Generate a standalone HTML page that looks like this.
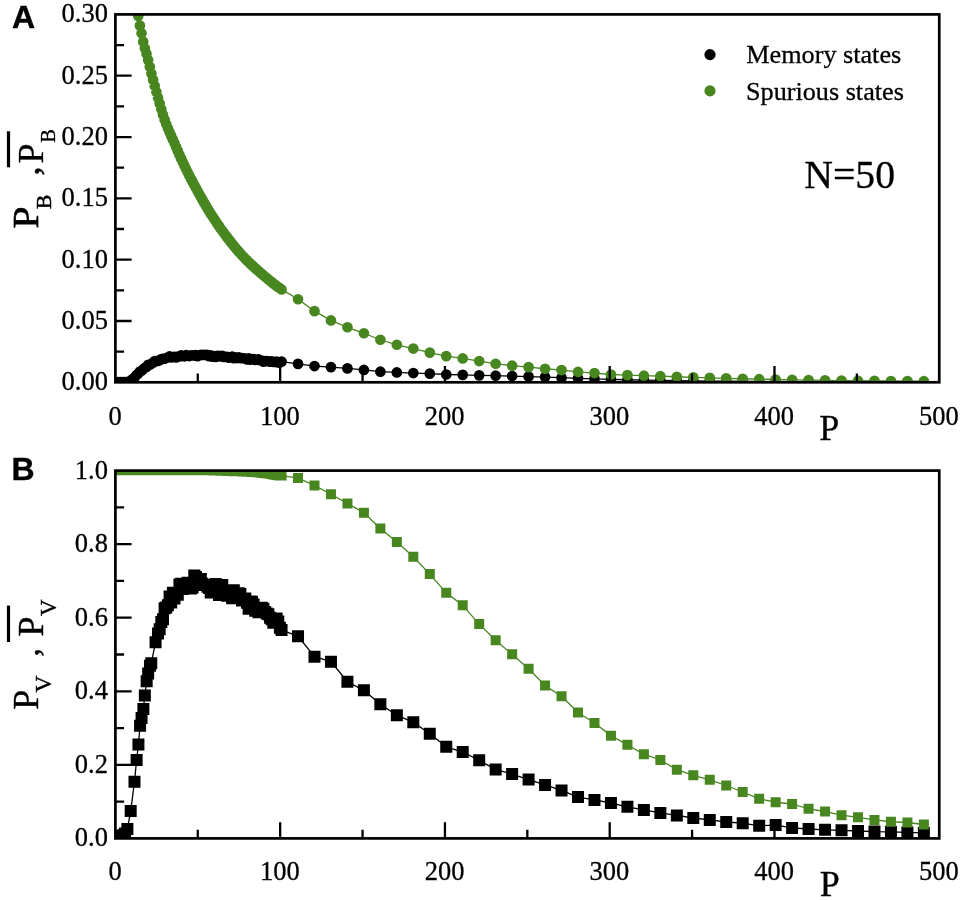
<!DOCTYPE html>
<html lang="en"><head><meta charset="utf-8"><title>Memory and spurious states, N=50</title>
<style>html,body{margin:0;padding:0;background:#fff}svg{display:block}text{font-family:"Liberation Serif","Times New Roman",serif;fill:#000}.pl{font-family:"Liberation Sans",Arial,sans-serif;font-weight:bold;font-size:32px;stroke:#000;stroke-width:0.4px}.tk{font-size:26.5px;stroke:#000;stroke-width:0.3px}.lg{font-size:26.2px;stroke:#000;stroke-width:0.3px}</style></head><body>
<svg width="961" height="900" viewBox="0 0 961 900">
<rect width="961" height="900" fill="#fff"/>
<defs>
<clipPath id="ca"><rect x="115.4" y="14.4" width="823.85" height="367.9"/></clipPath>
<clipPath id="cb"><rect x="115.4" y="470.6" width="823.85" height="367.8"/></clipPath>
</defs>
<g clip-path="url(#ca)">
<polyline points="118.5,382.2 120.15,382.2 121.79,382.2 123.44,382.2 125.09,382.17 126.73,382.02 128.38,381.77 130.03,381.13 131.68,379.89 133.32,378.57 134.97,377.04 136.62,375.04 138.26,373.48 139.91,371.55 141.56,370.64 143.2,369.24 144.85,367.8 146.5,366.91 148.15,364.73 149.79,364.66 151.44,363.82 153.09,362.6 154.73,361.15 156.38,361.01 158.03,360.91 159.67,360.18 161.32,359.04 162.97,358.86 164.62,358.66 166.26,358.04 167.91,357.27 169.56,356.42 171.2,357.5 172.85,356.98 174.5,356.84 176.14,357.36 177.79,356.56 179.44,356.44 181.09,355.37 182.73,355.77 184.38,356.28 186.03,355.19 187.67,355.52 189.32,356.03 190.97,355.47 192.61,355.43 194.26,355.54 195.91,355.16 197.56,356.16 199.2,355.36 200.85,354.86 202.5,355 204.14,354.96 205.79,355.04 207.44,354.97 209.08,356.17 210.73,355.42 212.38,356.67 214.03,356.22 215.67,356.88 217.32,355.73 218.97,355.73 220.61,356.51 222.26,355.81 223.91,357 225.55,356.8 227.2,356.95 228.85,357.63 230.5,357.15 232.14,356.67 233.79,358.1 235.44,357.44 237.08,358.05 238.73,357.38 240.38,358.08 242.02,358.14 243.67,358.3 245.32,358.62 246.97,359.47 248.61,358.42 250.26,359.75 251.91,359.21 253.55,359.19 255.2,359.97 256.85,359.7 258.49,359.43 260.14,360.1 261.79,360.65 263.44,361.7 265.08,361.05 266.73,361.09 268.38,361.25 270.02,361.64 271.67,361.27 273.32,361.87 274.96,361.87 276.61,361.72 278.26,362.56 279.91,362.49 281.55,361.6 298.02,363.85 314.49,366.05 330.96,367.15 347.43,368.38 363.9,369.97 380.37,371.68 396.84,372.41 413.31,373.03 429.78,373.64 446.25,374.49 462.72,374.86 479.19,375.35 495.66,375.72 512.13,376.08 528.6,376.57 545.07,377.06 561.54,377.67 578.01,378.29 594.48,378.9 610.95,379.39 627.42,379.76 643.89,380.09 660.36,380.38 676.83,380.64 693.3,380.85 709.77,381.04 726.24,381.21 742.71,381.35 759.18,381.48 775.65,381.59 792.12,381.68 808.59,381.76 825.06,381.83 841.53,381.89 858,381.96 874.47,382.01 890.94,382.07 907.41,382.12 923.88,382.16" fill="none" stroke="#000000" stroke-width="1.3" stroke-linejoin="round"/>
<path d="M113.15,382.2a5.35,5.35 0 1,0 10.7,0a5.35,5.35 0 1,0 -10.7,0zM114.8,382.2a5.35,5.35 0 1,0 10.7,0a5.35,5.35 0 1,0 -10.7,0zM116.44,382.2a5.35,5.35 0 1,0 10.7,0a5.35,5.35 0 1,0 -10.7,0zM118.09,382.2a5.35,5.35 0 1,0 10.7,0a5.35,5.35 0 1,0 -10.7,0zM119.74,382.17a5.35,5.35 0 1,0 10.7,0a5.35,5.35 0 1,0 -10.7,0zM121.38,382.02a5.35,5.35 0 1,0 10.7,0a5.35,5.35 0 1,0 -10.7,0zM123.03,381.77a5.35,5.35 0 1,0 10.7,0a5.35,5.35 0 1,0 -10.7,0zM124.68,381.13a5.35,5.35 0 1,0 10.7,0a5.35,5.35 0 1,0 -10.7,0zM126.33,379.89a5.35,5.35 0 1,0 10.7,0a5.35,5.35 0 1,0 -10.7,0zM127.97,378.57a5.35,5.35 0 1,0 10.7,0a5.35,5.35 0 1,0 -10.7,0zM129.62,377.04a5.35,5.35 0 1,0 10.7,0a5.35,5.35 0 1,0 -10.7,0zM131.27,375.04a5.35,5.35 0 1,0 10.7,0a5.35,5.35 0 1,0 -10.7,0zM132.91,373.48a5.35,5.35 0 1,0 10.7,0a5.35,5.35 0 1,0 -10.7,0zM134.56,371.55a5.35,5.35 0 1,0 10.7,0a5.35,5.35 0 1,0 -10.7,0zM136.21,370.64a5.35,5.35 0 1,0 10.7,0a5.35,5.35 0 1,0 -10.7,0zM137.85,369.24a5.35,5.35 0 1,0 10.7,0a5.35,5.35 0 1,0 -10.7,0zM139.5,367.8a5.35,5.35 0 1,0 10.7,0a5.35,5.35 0 1,0 -10.7,0zM141.15,366.91a5.35,5.35 0 1,0 10.7,0a5.35,5.35 0 1,0 -10.7,0zM142.8,364.73a5.35,5.35 0 1,0 10.7,0a5.35,5.35 0 1,0 -10.7,0zM144.44,364.66a5.35,5.35 0 1,0 10.7,0a5.35,5.35 0 1,0 -10.7,0zM146.09,363.82a5.35,5.35 0 1,0 10.7,0a5.35,5.35 0 1,0 -10.7,0zM147.74,362.6a5.35,5.35 0 1,0 10.7,0a5.35,5.35 0 1,0 -10.7,0zM149.38,361.15a5.35,5.35 0 1,0 10.7,0a5.35,5.35 0 1,0 -10.7,0zM151.03,361.01a5.35,5.35 0 1,0 10.7,0a5.35,5.35 0 1,0 -10.7,0zM152.68,360.91a5.35,5.35 0 1,0 10.7,0a5.35,5.35 0 1,0 -10.7,0zM154.32,360.18a5.35,5.35 0 1,0 10.7,0a5.35,5.35 0 1,0 -10.7,0zM155.97,359.04a5.35,5.35 0 1,0 10.7,0a5.35,5.35 0 1,0 -10.7,0zM157.62,358.86a5.35,5.35 0 1,0 10.7,0a5.35,5.35 0 1,0 -10.7,0zM159.27,358.66a5.35,5.35 0 1,0 10.7,0a5.35,5.35 0 1,0 -10.7,0zM160.91,358.04a5.35,5.35 0 1,0 10.7,0a5.35,5.35 0 1,0 -10.7,0zM162.56,357.27a5.35,5.35 0 1,0 10.7,0a5.35,5.35 0 1,0 -10.7,0zM164.21,356.42a5.35,5.35 0 1,0 10.7,0a5.35,5.35 0 1,0 -10.7,0zM165.85,357.5a5.35,5.35 0 1,0 10.7,0a5.35,5.35 0 1,0 -10.7,0zM167.5,356.98a5.35,5.35 0 1,0 10.7,0a5.35,5.35 0 1,0 -10.7,0zM169.15,356.84a5.35,5.35 0 1,0 10.7,0a5.35,5.35 0 1,0 -10.7,0zM170.79,357.36a5.35,5.35 0 1,0 10.7,0a5.35,5.35 0 1,0 -10.7,0zM172.44,356.56a5.35,5.35 0 1,0 10.7,0a5.35,5.35 0 1,0 -10.7,0zM174.09,356.44a5.35,5.35 0 1,0 10.7,0a5.35,5.35 0 1,0 -10.7,0zM175.74,355.37a5.35,5.35 0 1,0 10.7,0a5.35,5.35 0 1,0 -10.7,0zM177.38,355.77a5.35,5.35 0 1,0 10.7,0a5.35,5.35 0 1,0 -10.7,0zM179.03,356.28a5.35,5.35 0 1,0 10.7,0a5.35,5.35 0 1,0 -10.7,0zM180.68,355.19a5.35,5.35 0 1,0 10.7,0a5.35,5.35 0 1,0 -10.7,0zM182.32,355.52a5.35,5.35 0 1,0 10.7,0a5.35,5.35 0 1,0 -10.7,0zM183.97,356.03a5.35,5.35 0 1,0 10.7,0a5.35,5.35 0 1,0 -10.7,0zM185.62,355.47a5.35,5.35 0 1,0 10.7,0a5.35,5.35 0 1,0 -10.7,0zM187.26,355.43a5.35,5.35 0 1,0 10.7,0a5.35,5.35 0 1,0 -10.7,0zM188.91,355.54a5.35,5.35 0 1,0 10.7,0a5.35,5.35 0 1,0 -10.7,0zM190.56,355.16a5.35,5.35 0 1,0 10.7,0a5.35,5.35 0 1,0 -10.7,0zM192.21,356.16a5.35,5.35 0 1,0 10.7,0a5.35,5.35 0 1,0 -10.7,0zM193.85,355.36a5.35,5.35 0 1,0 10.7,0a5.35,5.35 0 1,0 -10.7,0zM195.5,354.86a5.35,5.35 0 1,0 10.7,0a5.35,5.35 0 1,0 -10.7,0zM197.15,355a5.35,5.35 0 1,0 10.7,0a5.35,5.35 0 1,0 -10.7,0zM198.79,354.96a5.35,5.35 0 1,0 10.7,0a5.35,5.35 0 1,0 -10.7,0zM200.44,355.04a5.35,5.35 0 1,0 10.7,0a5.35,5.35 0 1,0 -10.7,0zM202.09,354.97a5.35,5.35 0 1,0 10.7,0a5.35,5.35 0 1,0 -10.7,0zM203.73,356.17a5.35,5.35 0 1,0 10.7,0a5.35,5.35 0 1,0 -10.7,0zM205.38,355.42a5.35,5.35 0 1,0 10.7,0a5.35,5.35 0 1,0 -10.7,0zM207.03,356.67a5.35,5.35 0 1,0 10.7,0a5.35,5.35 0 1,0 -10.7,0zM208.68,356.22a5.35,5.35 0 1,0 10.7,0a5.35,5.35 0 1,0 -10.7,0zM210.32,356.88a5.35,5.35 0 1,0 10.7,0a5.35,5.35 0 1,0 -10.7,0zM211.97,355.73a5.35,5.35 0 1,0 10.7,0a5.35,5.35 0 1,0 -10.7,0zM213.62,355.73a5.35,5.35 0 1,0 10.7,0a5.35,5.35 0 1,0 -10.7,0zM215.26,356.51a5.35,5.35 0 1,0 10.7,0a5.35,5.35 0 1,0 -10.7,0zM216.91,355.81a5.35,5.35 0 1,0 10.7,0a5.35,5.35 0 1,0 -10.7,0zM218.56,357a5.35,5.35 0 1,0 10.7,0a5.35,5.35 0 1,0 -10.7,0zM220.2,356.8a5.35,5.35 0 1,0 10.7,0a5.35,5.35 0 1,0 -10.7,0zM221.85,356.95a5.35,5.35 0 1,0 10.7,0a5.35,5.35 0 1,0 -10.7,0zM223.5,357.63a5.35,5.35 0 1,0 10.7,0a5.35,5.35 0 1,0 -10.7,0zM225.15,357.15a5.35,5.35 0 1,0 10.7,0a5.35,5.35 0 1,0 -10.7,0zM226.79,356.67a5.35,5.35 0 1,0 10.7,0a5.35,5.35 0 1,0 -10.7,0zM228.44,358.1a5.35,5.35 0 1,0 10.7,0a5.35,5.35 0 1,0 -10.7,0zM230.09,357.44a5.35,5.35 0 1,0 10.7,0a5.35,5.35 0 1,0 -10.7,0zM231.73,358.05a5.35,5.35 0 1,0 10.7,0a5.35,5.35 0 1,0 -10.7,0zM233.38,357.38a5.35,5.35 0 1,0 10.7,0a5.35,5.35 0 1,0 -10.7,0zM235.03,358.08a5.35,5.35 0 1,0 10.7,0a5.35,5.35 0 1,0 -10.7,0zM236.67,358.14a5.35,5.35 0 1,0 10.7,0a5.35,5.35 0 1,0 -10.7,0zM238.32,358.3a5.35,5.35 0 1,0 10.7,0a5.35,5.35 0 1,0 -10.7,0zM239.97,358.62a5.35,5.35 0 1,0 10.7,0a5.35,5.35 0 1,0 -10.7,0zM241.62,359.47a5.35,5.35 0 1,0 10.7,0a5.35,5.35 0 1,0 -10.7,0zM243.26,358.42a5.35,5.35 0 1,0 10.7,0a5.35,5.35 0 1,0 -10.7,0zM244.91,359.75a5.35,5.35 0 1,0 10.7,0a5.35,5.35 0 1,0 -10.7,0zM246.56,359.21a5.35,5.35 0 1,0 10.7,0a5.35,5.35 0 1,0 -10.7,0zM248.2,359.19a5.35,5.35 0 1,0 10.7,0a5.35,5.35 0 1,0 -10.7,0zM249.85,359.97a5.35,5.35 0 1,0 10.7,0a5.35,5.35 0 1,0 -10.7,0zM251.5,359.7a5.35,5.35 0 1,0 10.7,0a5.35,5.35 0 1,0 -10.7,0zM253.14,359.43a5.35,5.35 0 1,0 10.7,0a5.35,5.35 0 1,0 -10.7,0zM254.79,360.1a5.35,5.35 0 1,0 10.7,0a5.35,5.35 0 1,0 -10.7,0zM256.44,360.65a5.35,5.35 0 1,0 10.7,0a5.35,5.35 0 1,0 -10.7,0zM258.09,361.7a5.35,5.35 0 1,0 10.7,0a5.35,5.35 0 1,0 -10.7,0zM259.73,361.05a5.35,5.35 0 1,0 10.7,0a5.35,5.35 0 1,0 -10.7,0zM261.38,361.09a5.35,5.35 0 1,0 10.7,0a5.35,5.35 0 1,0 -10.7,0zM263.03,361.25a5.35,5.35 0 1,0 10.7,0a5.35,5.35 0 1,0 -10.7,0zM264.67,361.64a5.35,5.35 0 1,0 10.7,0a5.35,5.35 0 1,0 -10.7,0zM266.32,361.27a5.35,5.35 0 1,0 10.7,0a5.35,5.35 0 1,0 -10.7,0zM267.97,361.87a5.35,5.35 0 1,0 10.7,0a5.35,5.35 0 1,0 -10.7,0zM269.61,361.87a5.35,5.35 0 1,0 10.7,0a5.35,5.35 0 1,0 -10.7,0zM271.26,361.72a5.35,5.35 0 1,0 10.7,0a5.35,5.35 0 1,0 -10.7,0zM272.91,362.56a5.35,5.35 0 1,0 10.7,0a5.35,5.35 0 1,0 -10.7,0zM274.56,362.49a5.35,5.35 0 1,0 10.7,0a5.35,5.35 0 1,0 -10.7,0zM276.2,361.6a5.35,5.35 0 1,0 10.7,0a5.35,5.35 0 1,0 -10.7,0zM292.67,363.85a5.35,5.35 0 1,0 10.7,0a5.35,5.35 0 1,0 -10.7,0zM309.14,366.05a5.35,5.35 0 1,0 10.7,0a5.35,5.35 0 1,0 -10.7,0zM325.61,367.15a5.35,5.35 0 1,0 10.7,0a5.35,5.35 0 1,0 -10.7,0zM342.08,368.38a5.35,5.35 0 1,0 10.7,0a5.35,5.35 0 1,0 -10.7,0zM358.55,369.97a5.35,5.35 0 1,0 10.7,0a5.35,5.35 0 1,0 -10.7,0zM375.02,371.68a5.35,5.35 0 1,0 10.7,0a5.35,5.35 0 1,0 -10.7,0zM391.49,372.41a5.35,5.35 0 1,0 10.7,0a5.35,5.35 0 1,0 -10.7,0zM407.96,373.03a5.35,5.35 0 1,0 10.7,0a5.35,5.35 0 1,0 -10.7,0zM424.43,373.64a5.35,5.35 0 1,0 10.7,0a5.35,5.35 0 1,0 -10.7,0zM440.9,374.49a5.35,5.35 0 1,0 10.7,0a5.35,5.35 0 1,0 -10.7,0zM457.37,374.86a5.35,5.35 0 1,0 10.7,0a5.35,5.35 0 1,0 -10.7,0zM473.84,375.35a5.35,5.35 0 1,0 10.7,0a5.35,5.35 0 1,0 -10.7,0zM490.31,375.72a5.35,5.35 0 1,0 10.7,0a5.35,5.35 0 1,0 -10.7,0zM506.78,376.08a5.35,5.35 0 1,0 10.7,0a5.35,5.35 0 1,0 -10.7,0zM523.25,376.57a5.35,5.35 0 1,0 10.7,0a5.35,5.35 0 1,0 -10.7,0zM539.72,377.06a5.35,5.35 0 1,0 10.7,0a5.35,5.35 0 1,0 -10.7,0zM556.19,377.67a5.35,5.35 0 1,0 10.7,0a5.35,5.35 0 1,0 -10.7,0zM572.66,378.29a5.35,5.35 0 1,0 10.7,0a5.35,5.35 0 1,0 -10.7,0zM589.13,378.9a5.35,5.35 0 1,0 10.7,0a5.35,5.35 0 1,0 -10.7,0zM605.6,379.39a5.35,5.35 0 1,0 10.7,0a5.35,5.35 0 1,0 -10.7,0zM622.07,379.76a5.35,5.35 0 1,0 10.7,0a5.35,5.35 0 1,0 -10.7,0zM638.54,380.09a5.35,5.35 0 1,0 10.7,0a5.35,5.35 0 1,0 -10.7,0zM655.01,380.38a5.35,5.35 0 1,0 10.7,0a5.35,5.35 0 1,0 -10.7,0zM671.48,380.64a5.35,5.35 0 1,0 10.7,0a5.35,5.35 0 1,0 -10.7,0zM687.95,380.85a5.35,5.35 0 1,0 10.7,0a5.35,5.35 0 1,0 -10.7,0zM704.42,381.04a5.35,5.35 0 1,0 10.7,0a5.35,5.35 0 1,0 -10.7,0zM720.89,381.21a5.35,5.35 0 1,0 10.7,0a5.35,5.35 0 1,0 -10.7,0zM737.36,381.35a5.35,5.35 0 1,0 10.7,0a5.35,5.35 0 1,0 -10.7,0zM753.83,381.48a5.35,5.35 0 1,0 10.7,0a5.35,5.35 0 1,0 -10.7,0zM770.3,381.59a5.35,5.35 0 1,0 10.7,0a5.35,5.35 0 1,0 -10.7,0zM786.77,381.68a5.35,5.35 0 1,0 10.7,0a5.35,5.35 0 1,0 -10.7,0zM803.24,381.76a5.35,5.35 0 1,0 10.7,0a5.35,5.35 0 1,0 -10.7,0zM819.71,381.83a5.35,5.35 0 1,0 10.7,0a5.35,5.35 0 1,0 -10.7,0zM836.18,381.89a5.35,5.35 0 1,0 10.7,0a5.35,5.35 0 1,0 -10.7,0zM852.65,381.96a5.35,5.35 0 1,0 10.7,0a5.35,5.35 0 1,0 -10.7,0zM869.12,382.01a5.35,5.35 0 1,0 10.7,0a5.35,5.35 0 1,0 -10.7,0zM885.59,382.07a5.35,5.35 0 1,0 10.7,0a5.35,5.35 0 1,0 -10.7,0zM902.06,382.12a5.35,5.35 0 1,0 10.7,0a5.35,5.35 0 1,0 -10.7,0zM918.53,382.16a5.35,5.35 0 1,0 10.7,0a5.35,5.35 0 1,0 -10.7,0z" fill="#000000"/>
<polyline points="118.5,-100.38 120.15,-90.76 121.79,-81.14 123.44,-71.52 125.09,-61.92 126.73,-52.32 128.38,-42.72 130.03,-33.15 131.68,-23.63 133.32,-14.01 134.97,-4.17 136.62,5.86 138.26,15.87 139.91,25.61 141.56,33.26 143.2,41.7 144.85,48.23 146.5,53.75 148.15,60.11 149.79,66.84 151.44,73.53 153.09,79.86 154.73,85.98 156.38,91.94 158.03,97.74 159.67,103.47 161.32,109.19 162.97,114.69 164.62,119.75 166.26,124.24 167.91,128.36 169.56,132.21 171.2,135.91 172.85,139.56 174.5,143.29 176.14,147.1 177.79,150.9 179.44,154.68 181.09,158.4 182.73,162.03 184.38,165.55 186.03,168.96 187.67,172.29 189.32,175.55 190.97,178.74 192.61,181.89 194.26,184.99 195.91,188.06 197.56,191.09 199.2,194.08 200.85,197.01 202.5,199.9 204.14,202.75 205.79,205.57 207.44,208.35 209.08,211.08 210.73,213.75 212.38,216.33 214.03,218.84 215.67,221.31 217.32,223.74 218.97,226.13 220.61,228.47 222.26,230.77 223.91,233.03 225.55,235.23 227.2,237.39 228.85,239.52 230.5,241.63 232.14,243.7 233.79,245.74 235.44,247.74 237.08,249.7 238.73,251.61 240.38,253.48 242.02,255.28 243.67,257.04 245.32,258.74 246.97,260.39 248.61,262.01 250.26,263.59 251.91,265.13 253.55,266.65 255.2,268.14 256.85,269.6 258.49,271.05 260.14,272.48 261.79,273.89 263.44,275.3 265.08,276.7 266.73,278.08 268.38,279.45 270.02,280.8 271.67,282.12 273.32,283.42 274.96,284.69 276.61,285.93 278.26,287.13 279.91,288.3 281.55,289.42 298.02,299.26 314.49,311.13 330.96,320.42 347.43,327.27 363.9,333.27 380.37,339.75 396.84,344.77 413.31,348.56 429.78,352.6 446.25,356.14 462.72,358.47 479.19,361.04 495.66,363.73 512.13,365.69 528.6,367.15 545.07,368.74 561.54,370.09 578.01,371.92 594.48,373.03 610.95,374.49 627.42,375.1 643.89,375.72 660.36,376.21 676.83,376.76 693.3,377.31 709.77,377.8 726.24,378.29 742.71,378.75 759.18,379.16 775.65,379.51 792.12,379.81 808.59,380.09 825.06,380.34 841.53,380.55 858,380.73 874.47,380.88 890.94,380.99 907.41,381.1 923.88,381.22" fill="none" stroke="#488620" stroke-width="1.3" stroke-linejoin="round"/>
<path d="M113.15,-100.38a5.35,5.35 0 1,0 10.7,0a5.35,5.35 0 1,0 -10.7,0zM114.8,-90.76a5.35,5.35 0 1,0 10.7,0a5.35,5.35 0 1,0 -10.7,0zM116.44,-81.14a5.35,5.35 0 1,0 10.7,0a5.35,5.35 0 1,0 -10.7,0zM118.09,-71.52a5.35,5.35 0 1,0 10.7,0a5.35,5.35 0 1,0 -10.7,0zM119.74,-61.92a5.35,5.35 0 1,0 10.7,0a5.35,5.35 0 1,0 -10.7,0zM121.38,-52.32a5.35,5.35 0 1,0 10.7,0a5.35,5.35 0 1,0 -10.7,0zM123.03,-42.72a5.35,5.35 0 1,0 10.7,0a5.35,5.35 0 1,0 -10.7,0zM124.68,-33.15a5.35,5.35 0 1,0 10.7,0a5.35,5.35 0 1,0 -10.7,0zM126.33,-23.63a5.35,5.35 0 1,0 10.7,0a5.35,5.35 0 1,0 -10.7,0zM127.97,-14.01a5.35,5.35 0 1,0 10.7,0a5.35,5.35 0 1,0 -10.7,0zM129.62,-4.17a5.35,5.35 0 1,0 10.7,0a5.35,5.35 0 1,0 -10.7,0zM131.27,5.86a5.35,5.35 0 1,0 10.7,0a5.35,5.35 0 1,0 -10.7,0zM132.91,15.87a5.35,5.35 0 1,0 10.7,0a5.35,5.35 0 1,0 -10.7,0zM134.56,25.61a5.35,5.35 0 1,0 10.7,0a5.35,5.35 0 1,0 -10.7,0zM136.21,33.26a5.35,5.35 0 1,0 10.7,0a5.35,5.35 0 1,0 -10.7,0zM137.85,41.7a5.35,5.35 0 1,0 10.7,0a5.35,5.35 0 1,0 -10.7,0zM139.5,48.23a5.35,5.35 0 1,0 10.7,0a5.35,5.35 0 1,0 -10.7,0zM141.15,53.75a5.35,5.35 0 1,0 10.7,0a5.35,5.35 0 1,0 -10.7,0zM142.8,60.11a5.35,5.35 0 1,0 10.7,0a5.35,5.35 0 1,0 -10.7,0zM144.44,66.84a5.35,5.35 0 1,0 10.7,0a5.35,5.35 0 1,0 -10.7,0zM146.09,73.53a5.35,5.35 0 1,0 10.7,0a5.35,5.35 0 1,0 -10.7,0zM147.74,79.86a5.35,5.35 0 1,0 10.7,0a5.35,5.35 0 1,0 -10.7,0zM149.38,85.98a5.35,5.35 0 1,0 10.7,0a5.35,5.35 0 1,0 -10.7,0zM151.03,91.94a5.35,5.35 0 1,0 10.7,0a5.35,5.35 0 1,0 -10.7,0zM152.68,97.74a5.35,5.35 0 1,0 10.7,0a5.35,5.35 0 1,0 -10.7,0zM154.32,103.47a5.35,5.35 0 1,0 10.7,0a5.35,5.35 0 1,0 -10.7,0zM155.97,109.19a5.35,5.35 0 1,0 10.7,0a5.35,5.35 0 1,0 -10.7,0zM157.62,114.69a5.35,5.35 0 1,0 10.7,0a5.35,5.35 0 1,0 -10.7,0zM159.27,119.75a5.35,5.35 0 1,0 10.7,0a5.35,5.35 0 1,0 -10.7,0zM160.91,124.24a5.35,5.35 0 1,0 10.7,0a5.35,5.35 0 1,0 -10.7,0zM162.56,128.36a5.35,5.35 0 1,0 10.7,0a5.35,5.35 0 1,0 -10.7,0zM164.21,132.21a5.35,5.35 0 1,0 10.7,0a5.35,5.35 0 1,0 -10.7,0zM165.85,135.91a5.35,5.35 0 1,0 10.7,0a5.35,5.35 0 1,0 -10.7,0zM167.5,139.56a5.35,5.35 0 1,0 10.7,0a5.35,5.35 0 1,0 -10.7,0zM169.15,143.29a5.35,5.35 0 1,0 10.7,0a5.35,5.35 0 1,0 -10.7,0zM170.79,147.1a5.35,5.35 0 1,0 10.7,0a5.35,5.35 0 1,0 -10.7,0zM172.44,150.9a5.35,5.35 0 1,0 10.7,0a5.35,5.35 0 1,0 -10.7,0zM174.09,154.68a5.35,5.35 0 1,0 10.7,0a5.35,5.35 0 1,0 -10.7,0zM175.74,158.4a5.35,5.35 0 1,0 10.7,0a5.35,5.35 0 1,0 -10.7,0zM177.38,162.03a5.35,5.35 0 1,0 10.7,0a5.35,5.35 0 1,0 -10.7,0zM179.03,165.55a5.35,5.35 0 1,0 10.7,0a5.35,5.35 0 1,0 -10.7,0zM180.68,168.96a5.35,5.35 0 1,0 10.7,0a5.35,5.35 0 1,0 -10.7,0zM182.32,172.29a5.35,5.35 0 1,0 10.7,0a5.35,5.35 0 1,0 -10.7,0zM183.97,175.55a5.35,5.35 0 1,0 10.7,0a5.35,5.35 0 1,0 -10.7,0zM185.62,178.74a5.35,5.35 0 1,0 10.7,0a5.35,5.35 0 1,0 -10.7,0zM187.26,181.89a5.35,5.35 0 1,0 10.7,0a5.35,5.35 0 1,0 -10.7,0zM188.91,184.99a5.35,5.35 0 1,0 10.7,0a5.35,5.35 0 1,0 -10.7,0zM190.56,188.06a5.35,5.35 0 1,0 10.7,0a5.35,5.35 0 1,0 -10.7,0zM192.21,191.09a5.35,5.35 0 1,0 10.7,0a5.35,5.35 0 1,0 -10.7,0zM193.85,194.08a5.35,5.35 0 1,0 10.7,0a5.35,5.35 0 1,0 -10.7,0zM195.5,197.01a5.35,5.35 0 1,0 10.7,0a5.35,5.35 0 1,0 -10.7,0zM197.15,199.9a5.35,5.35 0 1,0 10.7,0a5.35,5.35 0 1,0 -10.7,0zM198.79,202.75a5.35,5.35 0 1,0 10.7,0a5.35,5.35 0 1,0 -10.7,0zM200.44,205.57a5.35,5.35 0 1,0 10.7,0a5.35,5.35 0 1,0 -10.7,0zM202.09,208.35a5.35,5.35 0 1,0 10.7,0a5.35,5.35 0 1,0 -10.7,0zM203.73,211.08a5.35,5.35 0 1,0 10.7,0a5.35,5.35 0 1,0 -10.7,0zM205.38,213.75a5.35,5.35 0 1,0 10.7,0a5.35,5.35 0 1,0 -10.7,0zM207.03,216.33a5.35,5.35 0 1,0 10.7,0a5.35,5.35 0 1,0 -10.7,0zM208.68,218.84a5.35,5.35 0 1,0 10.7,0a5.35,5.35 0 1,0 -10.7,0zM210.32,221.31a5.35,5.35 0 1,0 10.7,0a5.35,5.35 0 1,0 -10.7,0zM211.97,223.74a5.35,5.35 0 1,0 10.7,0a5.35,5.35 0 1,0 -10.7,0zM213.62,226.13a5.35,5.35 0 1,0 10.7,0a5.35,5.35 0 1,0 -10.7,0zM215.26,228.47a5.35,5.35 0 1,0 10.7,0a5.35,5.35 0 1,0 -10.7,0zM216.91,230.77a5.35,5.35 0 1,0 10.7,0a5.35,5.35 0 1,0 -10.7,0zM218.56,233.03a5.35,5.35 0 1,0 10.7,0a5.35,5.35 0 1,0 -10.7,0zM220.2,235.23a5.35,5.35 0 1,0 10.7,0a5.35,5.35 0 1,0 -10.7,0zM221.85,237.39a5.35,5.35 0 1,0 10.7,0a5.35,5.35 0 1,0 -10.7,0zM223.5,239.52a5.35,5.35 0 1,0 10.7,0a5.35,5.35 0 1,0 -10.7,0zM225.15,241.63a5.35,5.35 0 1,0 10.7,0a5.35,5.35 0 1,0 -10.7,0zM226.79,243.7a5.35,5.35 0 1,0 10.7,0a5.35,5.35 0 1,0 -10.7,0zM228.44,245.74a5.35,5.35 0 1,0 10.7,0a5.35,5.35 0 1,0 -10.7,0zM230.09,247.74a5.35,5.35 0 1,0 10.7,0a5.35,5.35 0 1,0 -10.7,0zM231.73,249.7a5.35,5.35 0 1,0 10.7,0a5.35,5.35 0 1,0 -10.7,0zM233.38,251.61a5.35,5.35 0 1,0 10.7,0a5.35,5.35 0 1,0 -10.7,0zM235.03,253.48a5.35,5.35 0 1,0 10.7,0a5.35,5.35 0 1,0 -10.7,0zM236.67,255.28a5.35,5.35 0 1,0 10.7,0a5.35,5.35 0 1,0 -10.7,0zM238.32,257.04a5.35,5.35 0 1,0 10.7,0a5.35,5.35 0 1,0 -10.7,0zM239.97,258.74a5.35,5.35 0 1,0 10.7,0a5.35,5.35 0 1,0 -10.7,0zM241.62,260.39a5.35,5.35 0 1,0 10.7,0a5.35,5.35 0 1,0 -10.7,0zM243.26,262.01a5.35,5.35 0 1,0 10.7,0a5.35,5.35 0 1,0 -10.7,0zM244.91,263.59a5.35,5.35 0 1,0 10.7,0a5.35,5.35 0 1,0 -10.7,0zM246.56,265.13a5.35,5.35 0 1,0 10.7,0a5.35,5.35 0 1,0 -10.7,0zM248.2,266.65a5.35,5.35 0 1,0 10.7,0a5.35,5.35 0 1,0 -10.7,0zM249.85,268.14a5.35,5.35 0 1,0 10.7,0a5.35,5.35 0 1,0 -10.7,0zM251.5,269.6a5.35,5.35 0 1,0 10.7,0a5.35,5.35 0 1,0 -10.7,0zM253.14,271.05a5.35,5.35 0 1,0 10.7,0a5.35,5.35 0 1,0 -10.7,0zM254.79,272.48a5.35,5.35 0 1,0 10.7,0a5.35,5.35 0 1,0 -10.7,0zM256.44,273.89a5.35,5.35 0 1,0 10.7,0a5.35,5.35 0 1,0 -10.7,0zM258.09,275.3a5.35,5.35 0 1,0 10.7,0a5.35,5.35 0 1,0 -10.7,0zM259.73,276.7a5.35,5.35 0 1,0 10.7,0a5.35,5.35 0 1,0 -10.7,0zM261.38,278.08a5.35,5.35 0 1,0 10.7,0a5.35,5.35 0 1,0 -10.7,0zM263.03,279.45a5.35,5.35 0 1,0 10.7,0a5.35,5.35 0 1,0 -10.7,0zM264.67,280.8a5.35,5.35 0 1,0 10.7,0a5.35,5.35 0 1,0 -10.7,0zM266.32,282.12a5.35,5.35 0 1,0 10.7,0a5.35,5.35 0 1,0 -10.7,0zM267.97,283.42a5.35,5.35 0 1,0 10.7,0a5.35,5.35 0 1,0 -10.7,0zM269.61,284.69a5.35,5.35 0 1,0 10.7,0a5.35,5.35 0 1,0 -10.7,0zM271.26,285.93a5.35,5.35 0 1,0 10.7,0a5.35,5.35 0 1,0 -10.7,0zM272.91,287.13a5.35,5.35 0 1,0 10.7,0a5.35,5.35 0 1,0 -10.7,0zM274.56,288.3a5.35,5.35 0 1,0 10.7,0a5.35,5.35 0 1,0 -10.7,0zM276.2,289.42a5.35,5.35 0 1,0 10.7,0a5.35,5.35 0 1,0 -10.7,0zM292.67,299.26a5.35,5.35 0 1,0 10.7,0a5.35,5.35 0 1,0 -10.7,0zM309.14,311.13a5.35,5.35 0 1,0 10.7,0a5.35,5.35 0 1,0 -10.7,0zM325.61,320.42a5.35,5.35 0 1,0 10.7,0a5.35,5.35 0 1,0 -10.7,0zM342.08,327.27a5.35,5.35 0 1,0 10.7,0a5.35,5.35 0 1,0 -10.7,0zM358.55,333.27a5.35,5.35 0 1,0 10.7,0a5.35,5.35 0 1,0 -10.7,0zM375.02,339.75a5.35,5.35 0 1,0 10.7,0a5.35,5.35 0 1,0 -10.7,0zM391.49,344.77a5.35,5.35 0 1,0 10.7,0a5.35,5.35 0 1,0 -10.7,0zM407.96,348.56a5.35,5.35 0 1,0 10.7,0a5.35,5.35 0 1,0 -10.7,0zM424.43,352.6a5.35,5.35 0 1,0 10.7,0a5.35,5.35 0 1,0 -10.7,0zM440.9,356.14a5.35,5.35 0 1,0 10.7,0a5.35,5.35 0 1,0 -10.7,0zM457.37,358.47a5.35,5.35 0 1,0 10.7,0a5.35,5.35 0 1,0 -10.7,0zM473.84,361.04a5.35,5.35 0 1,0 10.7,0a5.35,5.35 0 1,0 -10.7,0zM490.31,363.73a5.35,5.35 0 1,0 10.7,0a5.35,5.35 0 1,0 -10.7,0zM506.78,365.69a5.35,5.35 0 1,0 10.7,0a5.35,5.35 0 1,0 -10.7,0zM523.25,367.15a5.35,5.35 0 1,0 10.7,0a5.35,5.35 0 1,0 -10.7,0zM539.72,368.74a5.35,5.35 0 1,0 10.7,0a5.35,5.35 0 1,0 -10.7,0zM556.19,370.09a5.35,5.35 0 1,0 10.7,0a5.35,5.35 0 1,0 -10.7,0zM572.66,371.92a5.35,5.35 0 1,0 10.7,0a5.35,5.35 0 1,0 -10.7,0zM589.13,373.03a5.35,5.35 0 1,0 10.7,0a5.35,5.35 0 1,0 -10.7,0zM605.6,374.49a5.35,5.35 0 1,0 10.7,0a5.35,5.35 0 1,0 -10.7,0zM622.07,375.1a5.35,5.35 0 1,0 10.7,0a5.35,5.35 0 1,0 -10.7,0zM638.54,375.72a5.35,5.35 0 1,0 10.7,0a5.35,5.35 0 1,0 -10.7,0zM655.01,376.21a5.35,5.35 0 1,0 10.7,0a5.35,5.35 0 1,0 -10.7,0zM671.48,376.76a5.35,5.35 0 1,0 10.7,0a5.35,5.35 0 1,0 -10.7,0zM687.95,377.31a5.35,5.35 0 1,0 10.7,0a5.35,5.35 0 1,0 -10.7,0zM704.42,377.8a5.35,5.35 0 1,0 10.7,0a5.35,5.35 0 1,0 -10.7,0zM720.89,378.29a5.35,5.35 0 1,0 10.7,0a5.35,5.35 0 1,0 -10.7,0zM737.36,378.75a5.35,5.35 0 1,0 10.7,0a5.35,5.35 0 1,0 -10.7,0zM753.83,379.16a5.35,5.35 0 1,0 10.7,0a5.35,5.35 0 1,0 -10.7,0zM770.3,379.51a5.35,5.35 0 1,0 10.7,0a5.35,5.35 0 1,0 -10.7,0zM786.77,379.81a5.35,5.35 0 1,0 10.7,0a5.35,5.35 0 1,0 -10.7,0zM803.24,380.09a5.35,5.35 0 1,0 10.7,0a5.35,5.35 0 1,0 -10.7,0zM819.71,380.34a5.35,5.35 0 1,0 10.7,0a5.35,5.35 0 1,0 -10.7,0zM836.18,380.55a5.35,5.35 0 1,0 10.7,0a5.35,5.35 0 1,0 -10.7,0zM852.65,380.73a5.35,5.35 0 1,0 10.7,0a5.35,5.35 0 1,0 -10.7,0zM869.12,380.88a5.35,5.35 0 1,0 10.7,0a5.35,5.35 0 1,0 -10.7,0zM885.59,380.99a5.35,5.35 0 1,0 10.7,0a5.35,5.35 0 1,0 -10.7,0zM902.06,381.1a5.35,5.35 0 1,0 10.7,0a5.35,5.35 0 1,0 -10.7,0zM918.53,381.22a5.35,5.35 0 1,0 10.7,0a5.35,5.35 0 1,0 -10.7,0z" fill="#488620"/>
</g>
<g clip-path="url(#cb)">
<polyline points="118.5,837.56 120.15,836.83 121.79,836.09 123.44,834.99 125.09,833.52 127.39,828.92 130.69,811.07 134.48,781.81 136.62,759.99 138.43,744.46 140.08,725.69 141.56,717.96 143.37,708.91 144.85,695.52 146.66,681.16 148.15,673.44 149.96,665.71 151.28,663.13 155.56,642.16 158.03,633.46 159.67,629.36 161.32,621.95 162.97,619.17 164.62,608.23 166.26,607.54 167.91,605.13 169.56,596.49 171.2,602.39 172.85,592.67 174.5,598.59 176.14,593.78 177.79,594.69 179.44,584.57 181.09,583.78 182.73,589.02 184.38,583.93 186.03,586.77 187.67,582.86 189.32,586.45 190.97,588.42 192.61,587.6 194.26,575.55 195.91,576.9 197.56,581.25 199.2,584.94 200.85,579.08 202.5,583.82 204.14,585 205.79,584.95 207.44,586.83 209.08,587.91 210.73,592.46 212.38,585.74 214.03,588.33 215.67,584 217.32,590.14 218.97,595.03 220.61,589.86 222.26,585.08 223.91,591.67 225.55,593.99 227.2,595.64 228.85,595.82 230.5,593.94 232.14,598.19 233.79,590.15 235.44,597.06 237.08,596.66 238.73,593.2 240.38,594.04 242.02,600.4 243.67,599.16 245.32,598.46 246.97,602.68 248.61,608.74 250.26,601.41 251.91,601.63 253.55,604.6 255.2,610.8 256.85,609.43 258.49,612.18 260.14,612.37 261.79,607.67 263.44,608.75 265.08,612.12 266.73,613.6 268.38,614.19 270.02,617.83 271.67,619.26 273.32,622.76 274.96,621.9 276.61,618.42 278.26,621.59 279.91,627.71 281.55,629.91 298.02,636.27 314.49,656.69 330.96,661.66 347.43,681.72 363.9,690.36 380.37,704.2 396.84,715.31 413.31,722.2 429.78,733.71 446.25,746.82 462.72,752.11 479.19,760.28 495.66,769.59 512.13,774.01 528.6,779.6 545.07,784.9 561.54,790.46 578.01,797.08 594.48,799.92 610.95,803.01 627.42,806.8 643.89,809.89 660.36,812.98 676.83,815.48 693.3,817.99 709.77,819.9 726.24,822 742.71,823.21 759.18,825.79 775.65,825.05 792.12,827.89 808.59,828.99 825.06,829.8 841.53,830.31 858,831.01 874.47,831.6 890.94,831.79 907.41,832.41 923.88,832.89" fill="none" stroke="#000000" stroke-width="1.3" stroke-linejoin="round"/>
<path d="M112.5,831.56h12v12h-12zM114.15,830.83h12v12h-12zM115.79,830.09h12v12h-12zM117.44,828.99h12v12h-12zM119.09,827.52h12v12h-12zM121.39,822.92h12v12h-12zM124.69,805.07h12v12h-12zM128.48,775.81h12v12h-12zM130.62,753.99h12v12h-12zM132.43,738.46h12v12h-12zM134.08,719.69h12v12h-12zM135.56,711.96h12v12h-12zM137.37,702.91h12v12h-12zM138.85,689.52h12v12h-12zM140.66,675.16h12v12h-12zM142.15,667.44h12v12h-12zM143.96,659.71h12v12h-12zM145.28,657.13h12v12h-12zM149.56,636.16h12v12h-12zM152.03,627.46h12v12h-12zM153.67,623.36h12v12h-12zM155.32,615.95h12v12h-12zM156.97,613.17h12v12h-12zM158.62,602.23h12v12h-12zM160.26,601.54h12v12h-12zM161.91,599.13h12v12h-12zM163.56,590.49h12v12h-12zM165.2,596.39h12v12h-12zM166.85,586.67h12v12h-12zM168.5,592.59h12v12h-12zM170.14,587.78h12v12h-12zM171.79,588.69h12v12h-12zM173.44,578.57h12v12h-12zM175.09,577.78h12v12h-12zM176.73,583.02h12v12h-12zM178.38,577.93h12v12h-12zM180.03,580.77h12v12h-12zM181.67,576.86h12v12h-12zM183.32,580.45h12v12h-12zM184.97,582.42h12v12h-12zM186.61,581.6h12v12h-12zM188.26,569.55h12v12h-12zM189.91,570.9h12v12h-12zM191.56,575.25h12v12h-12zM193.2,578.94h12v12h-12zM194.85,573.08h12v12h-12zM196.5,577.82h12v12h-12zM198.14,579h12v12h-12zM199.79,578.95h12v12h-12zM201.44,580.83h12v12h-12zM203.08,581.91h12v12h-12zM204.73,586.46h12v12h-12zM206.38,579.74h12v12h-12zM208.03,582.33h12v12h-12zM209.67,578h12v12h-12zM211.32,584.14h12v12h-12zM212.97,589.03h12v12h-12zM214.61,583.86h12v12h-12zM216.26,579.08h12v12h-12zM217.91,585.67h12v12h-12zM219.55,587.99h12v12h-12zM221.2,589.64h12v12h-12zM222.85,589.82h12v12h-12zM224.5,587.94h12v12h-12zM226.14,592.19h12v12h-12zM227.79,584.15h12v12h-12zM229.44,591.06h12v12h-12zM231.08,590.66h12v12h-12zM232.73,587.2h12v12h-12zM234.38,588.04h12v12h-12zM236.02,594.4h12v12h-12zM237.67,593.16h12v12h-12zM239.32,592.46h12v12h-12zM240.97,596.68h12v12h-12zM242.61,602.74h12v12h-12zM244.26,595.41h12v12h-12zM245.91,595.63h12v12h-12zM247.55,598.6h12v12h-12zM249.2,604.8h12v12h-12zM250.85,603.43h12v12h-12zM252.49,606.18h12v12h-12zM254.14,606.37h12v12h-12zM255.79,601.67h12v12h-12zM257.44,602.75h12v12h-12zM259.08,606.12h12v12h-12zM260.73,607.6h12v12h-12zM262.38,608.19h12v12h-12zM264.02,611.83h12v12h-12zM265.67,613.26h12v12h-12zM267.32,616.76h12v12h-12zM268.96,615.9h12v12h-12zM270.61,612.42h12v12h-12zM272.26,615.59h12v12h-12zM273.91,621.71h12v12h-12zM275.55,623.91h12v12h-12zM292.02,630.27h12v12h-12zM308.49,650.69h12v12h-12zM324.96,655.66h12v12h-12zM341.43,675.72h12v12h-12zM357.9,684.36h12v12h-12zM374.37,698.2h12v12h-12zM390.84,709.31h12v12h-12zM407.31,716.2h12v12h-12zM423.78,727.71h12v12h-12zM440.25,740.82h12v12h-12zM456.72,746.11h12v12h-12zM473.19,754.28h12v12h-12zM489.66,763.59h12v12h-12zM506.13,768.01h12v12h-12zM522.6,773.6h12v12h-12zM539.07,778.9h12v12h-12zM555.54,784.46h12v12h-12zM572.01,791.08h12v12h-12zM588.48,793.92h12v12h-12zM604.95,797.01h12v12h-12zM621.42,800.8h12v12h-12zM637.89,803.89h12v12h-12zM654.36,806.98h12v12h-12zM670.83,809.48h12v12h-12zM687.3,811.99h12v12h-12zM703.77,813.9h12v12h-12zM720.24,816h12v12h-12zM736.71,817.21h12v12h-12zM753.18,819.79h12v12h-12zM769.65,819.05h12v12h-12zM786.12,821.89h12v12h-12zM802.59,822.99h12v12h-12zM819.06,823.8h12v12h-12zM835.53,824.31h12v12h-12zM852,825.01h12v12h-12zM868.47,825.6h12v12h-12zM884.94,825.79h12v12h-12zM901.41,826.41h12v12h-12zM917.88,826.89h12v12h-12z" fill="#000000"/>
<polyline points="118.5,470.3 120.15,470.3 121.79,470.3 123.44,470.3 125.09,470.3 126.73,470.3 128.38,470.3 130.03,470.3 131.68,470.3 133.32,470.3 134.97,470.3 136.62,470.3 138.26,470.3 139.91,470.3 141.56,470.3 143.2,470.3 144.85,470.3 146.5,470.3 148.15,470.3 149.79,470.3 151.44,470.3 153.09,470.3 154.73,470.3 156.38,470.3 158.03,470.3 159.67,470.3 161.32,470.3 162.97,470.3 164.62,470.3 166.26,470.3 167.91,470.3 169.56,470.3 171.2,470.3 172.85,470.3 174.5,470.3 176.14,470.3 177.79,470.3 179.44,470.3 181.09,470.3 182.73,470.3 184.38,470.3 186.03,470.3 187.67,470.3 189.32,470.3 190.97,470.3 192.61,470.3 194.26,470.3 195.91,470.3 197.56,470.3 199.2,470.3 200.85,470.3 202.5,470.3 204.14,470.3 205.79,470.3 207.44,470.3 209.08,470.32 210.73,470.34 212.38,470.37 214.03,470.41 215.67,470.46 217.32,470.51 218.97,470.57 220.61,470.63 222.26,470.69 223.91,470.76 225.55,470.83 227.2,470.89 228.85,470.96 230.5,471.02 232.14,471.08 233.79,471.14 235.44,471.19 237.08,471.25 238.73,471.31 240.38,471.37 242.02,471.44 243.67,471.51 245.32,471.58 246.97,471.65 248.61,471.73 250.26,471.81 251.91,471.91 253.55,472 255.2,472.11 256.85,472.22 258.49,472.37 260.14,472.53 261.79,472.72 263.44,472.92 265.08,473.14 266.73,473.37 268.38,473.61 270.02,473.86 271.67,474.12 273.32,474.38 274.96,474.63 276.61,474.89 278.26,475.14 279.91,475.38 281.55,475.61 298.02,478.1 314.49,485.39 330.96,494.22 347.43,503.42 363.9,512.8 380.37,528.44 396.84,542.06 413.31,556.78 429.78,574.08 446.25,592.84 462.72,605.36 479.19,624.12 495.66,640.32 512.13,654.3 528.6,668.8 545.07,685.58 561.54,696.25 578.01,712.44 594.48,722.93 610.95,735.63 627.42,744.83 643.89,754.21 660.36,759.99 676.83,769.7 693.3,775.37 709.77,779.79 726.24,785.49 742.71,792.01 759.18,798.81 775.65,802.24 792.12,804 808.59,808.86 825.06,811.51 841.53,815.19 858,817.32 874.47,819.9 890.94,821.74 907.41,822.48 923.88,824.5" fill="none" stroke="#488620" stroke-width="1.3" stroke-linejoin="round"/>
<path d="M113.5,465.3h10v10h-10zM115.15,465.3h10v10h-10zM116.79,465.3h10v10h-10zM118.44,465.3h10v10h-10zM120.09,465.3h10v10h-10zM121.73,465.3h10v10h-10zM123.38,465.3h10v10h-10zM125.03,465.3h10v10h-10zM126.68,465.3h10v10h-10zM128.32,465.3h10v10h-10zM129.97,465.3h10v10h-10zM131.62,465.3h10v10h-10zM133.26,465.3h10v10h-10zM134.91,465.3h10v10h-10zM136.56,465.3h10v10h-10zM138.2,465.3h10v10h-10zM139.85,465.3h10v10h-10zM141.5,465.3h10v10h-10zM143.15,465.3h10v10h-10zM144.79,465.3h10v10h-10zM146.44,465.3h10v10h-10zM148.09,465.3h10v10h-10zM149.73,465.3h10v10h-10zM151.38,465.3h10v10h-10zM153.03,465.3h10v10h-10zM154.67,465.3h10v10h-10zM156.32,465.3h10v10h-10zM157.97,465.3h10v10h-10zM159.62,465.3h10v10h-10zM161.26,465.3h10v10h-10zM162.91,465.3h10v10h-10zM164.56,465.3h10v10h-10zM166.2,465.3h10v10h-10zM167.85,465.3h10v10h-10zM169.5,465.3h10v10h-10zM171.14,465.3h10v10h-10zM172.79,465.3h10v10h-10zM174.44,465.3h10v10h-10zM176.09,465.3h10v10h-10zM177.73,465.3h10v10h-10zM179.38,465.3h10v10h-10zM181.03,465.3h10v10h-10zM182.67,465.3h10v10h-10zM184.32,465.3h10v10h-10zM185.97,465.3h10v10h-10zM187.61,465.3h10v10h-10zM189.26,465.3h10v10h-10zM190.91,465.3h10v10h-10zM192.56,465.3h10v10h-10zM194.2,465.3h10v10h-10zM195.85,465.3h10v10h-10zM197.5,465.3h10v10h-10zM199.14,465.3h10v10h-10zM200.79,465.3h10v10h-10zM202.44,465.3h10v10h-10zM204.08,465.32h10v10h-10zM205.73,465.34h10v10h-10zM207.38,465.37h10v10h-10zM209.03,465.41h10v10h-10zM210.67,465.46h10v10h-10zM212.32,465.51h10v10h-10zM213.97,465.57h10v10h-10zM215.61,465.63h10v10h-10zM217.26,465.69h10v10h-10zM218.91,465.76h10v10h-10zM220.55,465.83h10v10h-10zM222.2,465.89h10v10h-10zM223.85,465.96h10v10h-10zM225.5,466.02h10v10h-10zM227.14,466.08h10v10h-10zM228.79,466.14h10v10h-10zM230.44,466.19h10v10h-10zM232.08,466.25h10v10h-10zM233.73,466.31h10v10h-10zM235.38,466.37h10v10h-10zM237.02,466.44h10v10h-10zM238.67,466.51h10v10h-10zM240.32,466.58h10v10h-10zM241.97,466.65h10v10h-10zM243.61,466.73h10v10h-10zM245.26,466.81h10v10h-10zM246.91,466.91h10v10h-10zM248.55,467h10v10h-10zM250.2,467.11h10v10h-10zM251.85,467.22h10v10h-10zM253.49,467.37h10v10h-10zM255.14,467.53h10v10h-10zM256.79,467.72h10v10h-10zM258.44,467.92h10v10h-10zM260.08,468.14h10v10h-10zM261.73,468.37h10v10h-10zM263.38,468.61h10v10h-10zM265.02,468.86h10v10h-10zM266.67,469.12h10v10h-10zM268.32,469.38h10v10h-10zM269.96,469.63h10v10h-10zM271.61,469.89h10v10h-10zM273.26,470.14h10v10h-10zM274.91,470.38h10v10h-10zM276.55,470.61h10v10h-10zM293.02,473.1h10v10h-10zM309.49,480.39h10v10h-10zM325.96,489.22h10v10h-10zM342.43,498.42h10v10h-10zM358.9,507.8h10v10h-10zM375.37,523.44h10v10h-10zM391.84,537.06h10v10h-10zM408.31,551.78h10v10h-10zM424.78,569.08h10v10h-10zM441.25,587.84h10v10h-10zM457.72,600.36h10v10h-10zM474.19,619.12h10v10h-10zM490.66,635.32h10v10h-10zM507.13,649.3h10v10h-10zM523.6,663.8h10v10h-10zM540.07,680.58h10v10h-10zM556.54,691.25h10v10h-10zM573.01,707.44h10v10h-10zM589.48,717.93h10v10h-10zM605.95,730.63h10v10h-10zM622.42,739.83h10v10h-10zM638.89,749.21h10v10h-10zM655.36,754.99h10v10h-10zM671.83,764.7h10v10h-10zM688.3,770.37h10v10h-10zM704.77,774.79h10v10h-10zM721.24,780.49h10v10h-10zM737.71,787.01h10v10h-10zM754.18,793.81h10v10h-10zM770.65,797.24h10v10h-10zM787.12,799h10v10h-10zM803.59,803.86h10v10h-10zM820.06,806.51h10v10h-10zM836.53,810.19h10v10h-10zM853,812.32h10v10h-10zM869.47,814.9h10v10h-10zM885.94,816.74h10v10h-10zM902.41,817.48h10v10h-10zM918.88,819.5h10v10h-10z" fill="#488620"/>
</g>
<path d="M197.78,382.3v-8.7M280.17,382.3v-16.2M362.56,382.3v-8.7M444.94,382.3v-16.2M527.33,382.3v-8.7M609.71,382.3v-16.2M692.09,382.3v-8.7M774.48,382.3v-16.2M856.86,382.3v-8.7M115.4,320.98h16.2M115.4,259.67h16.2M115.4,198.35h16.2M115.4,137.03h16.2M115.4,75.72h16.2M115.4,351.64h8.7M115.4,290.32h8.7M115.4,229.01h8.7M115.4,167.69h8.7M115.4,106.38h8.7M115.4,45.06h8.7" stroke="#000" stroke-width="2.3" fill="none"/>
<rect x="115.4" y="14.4" width="823.85" height="367.9" fill="none" stroke="#000" stroke-width="2.7"/>
<text class="tk" x="107.9" y="390.3" text-anchor="end">0.00</text>
<text class="tk" x="107.9" y="328.98" text-anchor="end">0.05</text>
<text class="tk" x="107.9" y="267.67" text-anchor="end">0.10</text>
<text class="tk" x="107.9" y="206.35" text-anchor="end">0.15</text>
<text class="tk" x="107.9" y="145.03" text-anchor="end">0.20</text>
<text class="tk" x="107.9" y="83.72" text-anchor="end">0.25</text>
<text class="tk" x="107.9" y="22.4" text-anchor="end">0.30</text>
<text class="tk" x="115.1" y="424.7" text-anchor="middle">0</text>
<text class="tk" x="279.87" y="424.7" text-anchor="middle">100</text>
<text class="tk" x="444.64" y="424.7" text-anchor="middle">200</text>
<text class="tk" x="609.41" y="424.7" text-anchor="middle">300</text>
<text class="tk" x="774.18" y="424.7" text-anchor="middle">400</text>
<text class="tk" x="938.95" y="424.7" text-anchor="middle">500</text>
<path d="M197.78,838.4v-8.7M280.17,838.4v-16.2M362.56,838.4v-8.7M444.94,838.4v-16.2M527.33,838.4v-8.7M609.71,838.4v-16.2M692.09,838.4v-8.7M774.48,838.4v-16.2M856.86,838.4v-8.7M115.4,764.84h16.2M115.4,691.28h16.2M115.4,617.72h16.2M115.4,544.16h16.2M115.4,801.62h8.7M115.4,728.06h8.7M115.4,654.5h8.7M115.4,580.94h8.7M115.4,507.38h8.7" stroke="#000" stroke-width="2.3" fill="none"/>
<rect x="115.4" y="470.6" width="823.85" height="367.8" fill="none" stroke="#000" stroke-width="2.7"/>
<text class="tk" x="107.9" y="846.4" text-anchor="end">0.0</text>
<text class="tk" x="107.9" y="772.84" text-anchor="end">0.2</text>
<text class="tk" x="107.9" y="699.28" text-anchor="end">0.4</text>
<text class="tk" x="107.9" y="625.72" text-anchor="end">0.6</text>
<text class="tk" x="107.9" y="552.16" text-anchor="end">0.8</text>
<text class="tk" x="107.9" y="478.6" text-anchor="end">1.0</text>
<text class="tk" x="115.1" y="879.6" text-anchor="middle">0</text>
<text class="tk" x="279.87" y="879.6" text-anchor="middle">100</text>
<text class="tk" x="444.64" y="879.6" text-anchor="middle">200</text>
<text class="tk" x="609.41" y="879.6" text-anchor="middle">300</text>
<text class="tk" x="774.18" y="879.6" text-anchor="middle">400</text>
<text class="tk" x="938.95" y="879.6" text-anchor="middle">500</text>
<text class="pl" x="12.0" y="27.7">A</text>
<text class="pl" x="11.6" y="479.8">B</text>
<text x="819.2" y="439.7" font-size="36" stroke="#000" stroke-width="0.3">P</text>
<text x="819.7" y="896.1" font-size="36" stroke="#000" stroke-width="0.3">P</text>
<text x="804.3" y="188.3" font-size="39.7" stroke="#000" stroke-width="0.3">N=50</text>
<circle cx="710" cy="54.6" r="5.6" fill="#000000"/>
<circle cx="710" cy="90.9" r="5.6" fill="#488620"/>
<text class="lg" x="746.3" y="63.3">Memory states</text>
<text class="lg" x="746.0" y="99.8">Spurious states</text>
<text transform="translate(38,228.6) rotate(-90) scale(1.1,1)" font-size="36" stroke="#000" stroke-width="0.7">P</text>
<text transform="translate(51.2,209.2) rotate(-90)" font-size="22" stroke="#000" stroke-width="0.5">B</text>
<text transform="translate(38.5,175.6) rotate(-90)" font-size="36" stroke="#000" stroke-width="0.5">,</text>
<text transform="translate(43.2,163.6) rotate(-90)" font-size="36" stroke="#000" stroke-width="0.3">P</text>
<text transform="translate(55.3,142.8) rotate(-90)" font-size="20.5" stroke="#000" stroke-width="0.3">B</text>
<rect x="6.9" y="131.3" width="3.2" height="36" fill="#000"/>
<text transform="translate(38,709.8) rotate(-90)" font-size="36" stroke="#000" stroke-width="0.4">P</text>
<text transform="translate(51,692.4) rotate(-90)" font-size="23.5" stroke="#000" stroke-width="0.4">V</text>
<text transform="translate(38.5,656.6) rotate(-90)" font-size="34" stroke="#000" stroke-width="0.4">,</text>
<text transform="translate(43.2,636.6) rotate(-90)" font-size="36" stroke="#000" stroke-width="0.4">P</text>
<text transform="translate(56,616) rotate(-90)" font-size="23" stroke="#000" stroke-width="0.4">V</text>
<rect x="6.9" y="605.6" width="3.2" height="36.4" fill="#000"/>
</svg></body></html>
